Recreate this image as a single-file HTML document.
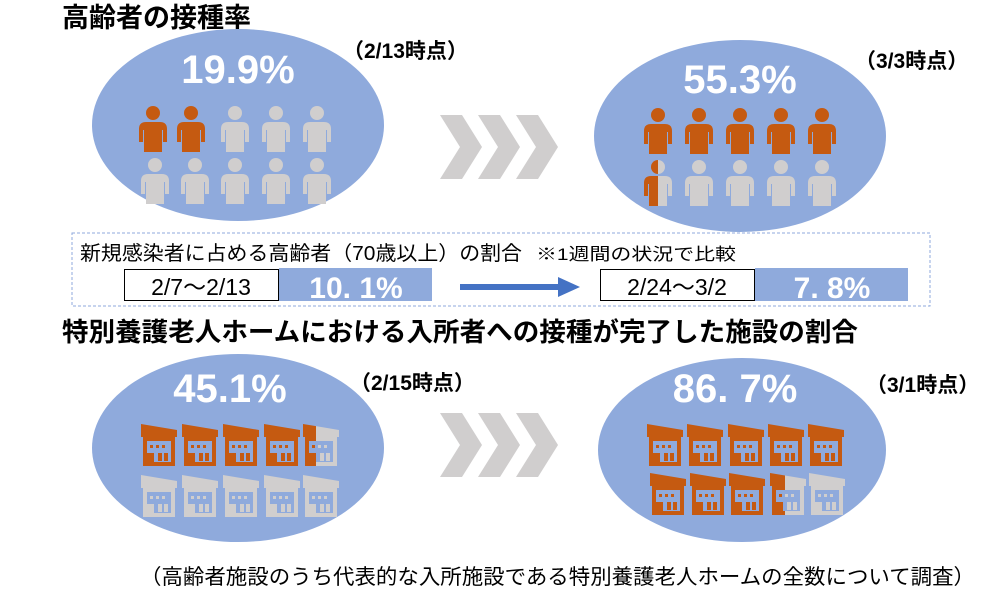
<!DOCTYPE html>
<html><head><meta charset="utf-8"><style>
html,body{margin:0;padding:0;background:#fff;}
svg{display:block;font-family:"Liberation Sans","Noto Sans CJK JP",sans-serif;}
</style></head><body>
<svg width="991" height="599" viewBox="0 0 991 599" xmlns="http://www.w3.org/2000/svg">
<defs>
<g id="p">
<circle cx="17" cy="7" r="7"/>
<path d="M3,23 Q3,16 10,16 L24,16 Q31,16 31,23 L31,36 L27,36 L27,24 L26,24 L26,46 L8,46 L8,24 L7,24 L7,36 L3,36 Z"/>
</g>
<g id="h">
<polygon points="2,0 38,6 38,13 2,13"/>
<path d="M4,13 L36,13 L36,42 L4,42 Z M8,17 L8,38 L32,38 L32,17 Z" fill-rule="evenodd"/>
<rect x="11" y="21" width="3" height="3"/><rect x="17" y="21" width="3" height="3"/><rect x="23" y="21" width="3" height="3"/>
<rect x="8" y="29" width="7" height="13"/>
<rect x="19" y="29" width="4" height="8"/><rect x="25" y="29" width="4" height="8"/>
</g>
<g id="chev" fill="#d0cece">
<polygon points="0,0 22,0 42,32 22,64 0,64 20,32"/>
<polygon points="38,0 60,0 80,32 60,64 38,64 58,32"/>
<polygon points="76,0 98,0 118,32 98,64 76,64 96,32"/>
</g>
<clipPath id="lh"><rect x="0" y="0" width="17" height="50"/></clipPath>
<clipPath id="rh"><rect x="17" y="0" width="30" height="50"/></clipPath>
<clipPath id="lh2"><rect x="0" y="0" width="15" height="50"/></clipPath>
<clipPath id="rh2"><rect x="15" y="0" width="30" height="50"/></clipPath>
<clipPath id="lh3"><rect x="0" y="0" width="17" height="50"/></clipPath>
<clipPath id="rh3"><rect x="17" y="0" width="30" height="50"/></clipPath>
</defs>

<text x="62" y="27" font-size="27" font-weight="bold" fill="#000">高齢者の接種率</text>

<ellipse cx="238" cy="125" rx="146" ry="96" fill="#8faadc"/>
<text x="238" y="83" font-size="40" font-weight="bold" fill="#fff" text-anchor="middle">19.9%</text>
<g fill="#c55a11"><use href="#p" x="136" y="106"/><use href="#p" x="174" y="106"/></g>
<g fill="#d0cece"><use href="#p" x="218" y="106"/><use href="#p" x="259" y="106"/><use href="#p" x="300" y="106"/>
<use href="#p" x="138" y="158"/><use href="#p" x="178" y="158"/><use href="#p" x="218" y="158"/><use href="#p" x="259" y="158"/><use href="#p" x="300" y="158"/></g>
<text x="343" y="58" font-size="21" font-weight="bold" fill="#000">（2/13時点）</text>

<use href="#chev" x="440" y="115"/>

<ellipse cx="740" cy="136" rx="146" ry="96" fill="#8faadc"/>
<text x="740" y="93" font-size="40" font-weight="bold" fill="#fff" text-anchor="middle">55.3%</text>
<g fill="#c55a11"><use href="#p" x="641" y="108"/><use href="#p" x="682" y="108"/><use href="#p" x="723" y="108"/><use href="#p" x="764" y="108"/><use href="#p" x="805" y="108"/></g>
<g transform="translate(641,160)"><use href="#p" fill="#c55a11" clip-path="url(#lh)"/><use href="#p" fill="#d0cece" clip-path="url(#rh)"/></g>
<g fill="#d0cece"><use href="#p" x="682" y="160"/><use href="#p" x="723" y="160"/><use href="#p" x="764" y="160"/><use href="#p" x="805" y="160"/></g>
<text x="855" y="68" font-size="21" font-weight="bold" fill="#000">（3/3時点）</text>

<rect x="72" y="233" width="858" height="73" fill="none" stroke="#8faadc" stroke-width="1" stroke-dasharray="3,2"/>
<text x="80" y="260" font-size="20" fill="#000" textLength="442" lengthAdjust="spacingAndGlyphs">新規感染者に占める高齢者（70歳以上）の割合</text>
<text x="536" y="260" font-size="17" fill="#000" textLength="200" lengthAdjust="spacingAndGlyphs">※1週間の状況で比較</text>
<rect x="124.5" y="269.5" width="154" height="31" fill="#fff" stroke="#000" stroke-width="1"/>
<text x="201" y="295" font-size="23" fill="#000" text-anchor="middle">2/7～2/13</text>
<rect x="279" y="268" width="153" height="33" fill="#8faadc"/>
<text x="356" y="298" font-size="30" font-weight="bold" fill="#fff" text-anchor="middle">10. 1%</text>
<rect x="460" y="284" width="100" height="6" fill="#4472c4"/>
<polygon points="558,277 580,287 558,297" fill="#4472c4"/>
<rect x="600.5" y="269.5" width="154" height="31" fill="#fff" stroke="#000" stroke-width="1"/>
<text x="677" y="295" font-size="23" fill="#000" text-anchor="middle">2/24～3/2</text>
<rect x="755" y="268" width="153" height="33" fill="#8faadc"/>
<text x="832" y="298" font-size="30" font-weight="bold" fill="#fff" text-anchor="middle">7. 8%</text>

<text x="62" y="341" font-size="26" font-weight="bold" fill="#000" textLength="796" lengthAdjust="spacingAndGlyphs">特別養護老人ホームにおける入所者への接種が完了した施設の割合</text>

<ellipse cx="238" cy="448" rx="146" ry="94" fill="#8faadc"/>
<text x="230" y="402" font-size="40" font-weight="bold" fill="#fff" text-anchor="middle">45.1%</text>
<g fill="#c55a11"><use href="#h" x="139" y="424"/><use href="#h" x="180" y="424"/><use href="#h" x="221" y="424"/><use href="#h" x="262" y="424"/></g>
<g transform="translate(301,424)"><use href="#h" fill="#c55a11" clip-path="url(#lh2)"/><use href="#h" fill="#d0cece" clip-path="url(#rh2)"/></g>
<g fill="#d0cece"><use href="#h" x="139" y="475"/><use href="#h" x="180" y="475"/><use href="#h" x="221" y="475"/><use href="#h" x="262" y="475"/><use href="#h" x="301" y="475"/></g>
<text x="350" y="390" font-size="21" font-weight="bold" fill="#000">（2/15時点）</text>

<use href="#chev" x="440" y="413"/>

<ellipse cx="742" cy="450" rx="144" ry="92" fill="#8faadc"/>
<text x="735" y="402" font-size="40" font-weight="bold" fill="#fff" text-anchor="middle">86. 7%</text>
<g fill="#c55a11"><use href="#h" x="645" y="424"/><use href="#h" x="685" y="424"/><use href="#h" x="726" y="424"/><use href="#h" x="766" y="424"/><use href="#h" x="806" y="424"/>
<use href="#h" x="648" y="473"/><use href="#h" x="688" y="473"/><use href="#h" x="727" y="473"/></g>
<g transform="translate(768,473)"><use href="#h" fill="#c55a11" clip-path="url(#lh3)"/><use href="#h" fill="#d0cece" clip-path="url(#rh3)"/></g>
<use href="#h" x="807" y="473" fill="#d0cece"/>
<text x="866" y="392" font-size="21" font-weight="bold" fill="#000">（3/1時点）</text>

<text x="140" y="584" font-size="21" fill="#000" textLength="835" lengthAdjust="spacingAndGlyphs">（高齢者施設のうち代表的な入所施設である特別養護老人ホームの全数について調査）</text>
</svg>
</body></html>
